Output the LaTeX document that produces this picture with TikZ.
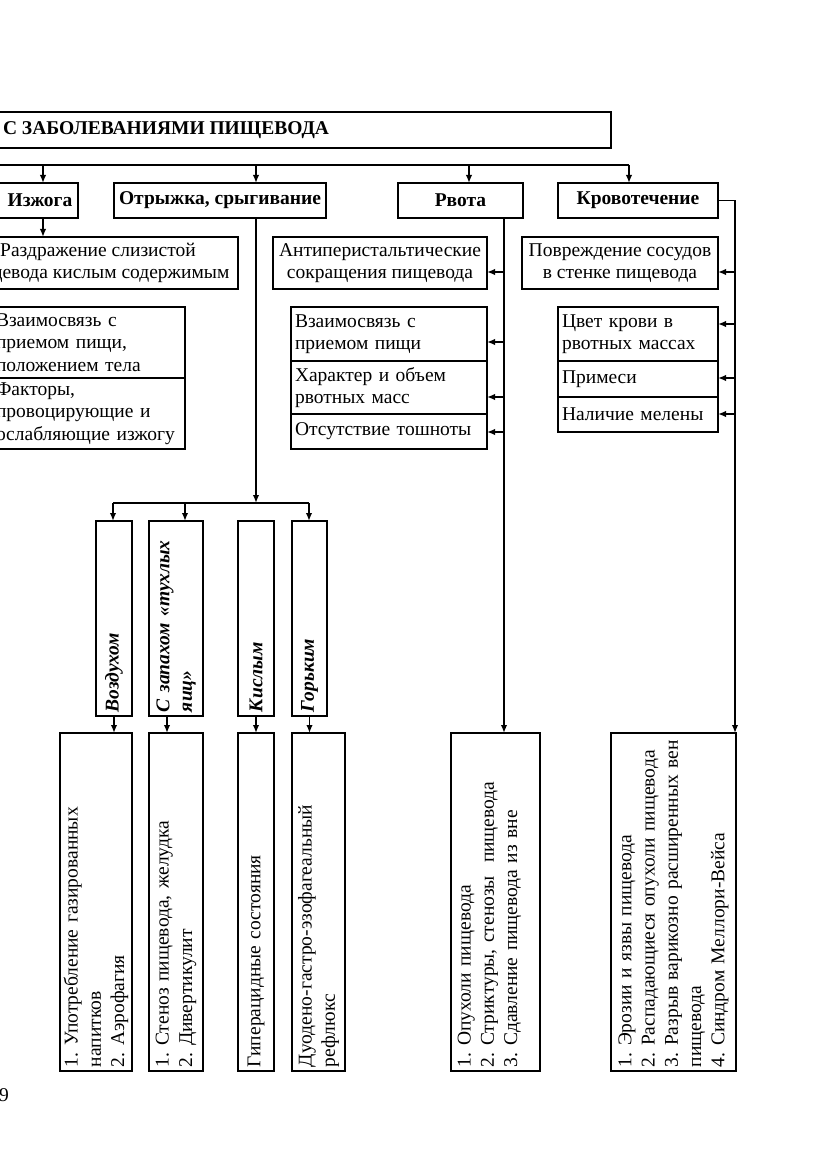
\documentclass[tikz,border=0pt]{standalone}
\usepackage{fontspec}
\setmainfont{Liberation Serif}
\usetikzlibrary{arrows.meta}
\frenchspacing
\newcommand\rmfs{\fontsize{19.5}{22.5}\selectfont}
\newcommand\vrfs{\fontsize{19.5}{23.3}\selectfont}
\newcommand\bffs{\fontsize{19.5}{22.5}\selectfont\bfseries}
\newcommand\bifs{\fontsize{19.5}{22.5}\selectfont\bfseries\itshape}
\begin{document}
\begin{tikzpicture}[x=1pt,y=-1pt,
  box/.style={draw, line width=1.5pt, inner sep=0pt, outer sep=0pt, align=center, font=\rmfs},
  lbox/.style={box, align=left},
  corners/.style n args={4}{anchor=north west, at={(#1,#2)},
     minimum width={((#3)-(#1))*1pt}, minimum height={((#4)-(#2))*1pt}},
  txt/.style={inner sep=0pt, outer sep=0pt, align=center},
  vtxt/.style={rotate=90, anchor=west, align=left, inner xsep=4pt, inner ysep=0pt, outer sep=0pt},
  conn/.style={line width=1.8pt},
  arr/.style={conn, -{Latex[length=8pt,width=6.5pt]}}]
\useasboundingbox (0,0) rectangle (831,1174);
\clip (0,0) rectangle (831,1174);
\fill[white] (0,0) rectangle (831,1174);

% title
\node[box, corners={-20}{112}{611}{148}] (title) {};
\node[txt, font=\bffs, anchor=west] (titletxt) at (3,130) {С ЗАБОЛЕВАНИЯМИ ПИЩЕВОДА};

% level 2
\node[box, corners={-20}{183}{78}{218}] (izh) {};
\node[txt, font=\bffs] (izhtxt) at (40,200.5) {Изжога};
\node[box, font=\bffs, corners={114}{183}{326}{218}] (otr) {Отрыжка, срыгивание};
\node[box, font=\bffs, corners={398}{183}{523}{218}] (rv) {Рвота};
\node[box, font=\bffs, corners={558}{183}{718}{218}] (kr) {Кровотечение};

% level 3
\node[box, corners={-42}{237}{238}{289}] (razd) {Раздражение слизистой\\пищевода кислым содержимым};
\node[box, corners={273}{237}{487}{289}] (anti) {Антиперистальтические\\сокращения пищевода};
\node[box, corners={522}{237}{718}{289}] (pov) {Повреждение сосудов\\в стенке пищевода};

% lists
\node[lbox, text width=184pt, corners={-9}{307}{185}{378}] (iz1) {Взаимосвязь с\\приемом пищи,\\положением тела};
\node[lbox, text width=184pt, corners={-9}{378}{185}{449}] (iz2) {Факторы,\\провоцирующие и\\ослабляющие изжогу};
\node[lbox, text width=188pt, corners={291}{307}{487}{361}] (rv1) {Взаимосвязь с\\приемом пищи};
\node[lbox, text width=188pt, corners={291}{361}{487}{414}] (rv2) {Характер и объем\\рвотных масс};
\node[lbox, text width=188pt, corners={291}{414}{487}{449}] (rv3) {Отсутствие тошноты};
\node[lbox, text width=152pt, corners={558}{307}{718}{361}] (kr1) {Цвет крови в\\рвотных массах};
\node[lbox, text width=152pt, corners={558}{361}{718}{397}] (kr2) {Примеси};
\node[lbox, text width=152pt, corners={558}{397}{718}{432}] (kr3) {Наличие мелены};

% level 4
\node[box, corners={96}{521}{132}{716}] (v1) {};
\node[box, corners={149}{521}{203}{716}] (v2) {};
\node[box, corners={238}{521}{274}{716}] (v3) {};
\node[box, corners={292}{521}{327}{716}] (v4) {};
\node[vtxt, font=\bifs, text width=185pt] (v1t) at (v1.south) {Воздухом};
\node[vtxt, font=\bifs, text width=185pt] (v2t) at (v2.south) {С запахом «тухлых\\яиц»};
\node[vtxt, font=\bifs, text width=185pt] (v3t) at (v3.south) {Кислым};
\node[vtxt, font=\bifs, text width=185pt] (v4t) at (v4.south) {Горьким};

% level 5
\node[box, corners={60}{733}{132}{1071}] (b1) {};
\node[box, corners={149}{733}{203}{1071}] (b2) {};
\node[box, corners={238}{733}{274}{1071}] (b3) {};
\node[box, corners={292}{733}{345}{1071}] (b4) {};
\node[box, corners={451}{733}{540}{1071}] (b5) {};
\node[box, corners={611}{733}{736}{1071}] (b6) {};
\node[vtxt, font=\vrfs, text width=334pt] (b1t) at (b1.south) {1. Употребление газированных\\напитков\\2. Аэрофагия};
\node[vtxt, font=\vrfs, text width=334pt] (b2t) at (b2.south) {1. Стеноз пищевода, желудка\\2. Дивертикулит};
\node[vtxt, font=\vrfs, text width=334pt] (b3t) at (b3.south) {Гиперацидные состояния};
\node[vtxt, font=\vrfs, text width=334pt] (b4t) at (b4.south) {Дуодено-гастро-эзофагеальный\\рефлюкс};
\node[vtxt, font=\vrfs, text width=334pt] (b5t) at ([xshift=-6pt]b5.south) {1. Опухоли пищевода\\2. Стриктуры, стенозы\ \ пищевода\\3. Сдавление пищевода из вне};
\node[vtxt, font=\vrfs, text width=334pt] (b6t) at (b6.south) {1. Эрозии и язвы пищевода\\2. Распадающиеся опухоли пищевода\\3. Разрыв варикозно расширенных вен\\пищевода\\4. Синдром Меллори-Вейса};

% page number
\node[txt, font=\rmfs, anchor=west] (pg) at (-1,1095) {9};

% top bus
\coordinate (busL) at (-20,165);
\coordinate (busR) at (629,165);
\coordinate (a1) at (43,165);
\coordinate (a2) at (256,165);
\coordinate (a3) at (469,165);
\draw[conn] (busL) -- (busR);
\draw[arr] (a1) -- (a1 |- izh.north);
\draw[arr] (a2) -- (a2 |- otr.north);
\draw[arr] (a3) -- (a3 |- rv.north);
\draw[arr] (busR) -- (busR |- kr.north);

% heartburn
\draw[arr] (a1 |- izh.south) -- (a1 |- razd.north);

% belching
\coordinate (ox) at (256,218);
\coordinate (obusL) at (113,503);
\coordinate (obusM) at (185,503);
\coordinate (obusR) at (309,503);
\draw[conn] (obusL) -- (obusR);
\draw[arr] (ox) -- (ox |- obusL);
\draw[arr] (obusL) -- (obusL |- v1.north);
\draw[arr] (obusM) -- (obusM |- v2.north);
\draw[arr] (obusR) -- (obusR |- v4.north);
\coordinate (v2x) at (167,716);
\draw[arr] (v1.south) -- (v1.south |- b1.north);
\draw[arr] (v2x) -- (v2x |- b2.north);
\draw[arr] (v3.south) -- (v3.south |- b3.north);
\draw[arr] (v4.south) -- (v4.south |- b4.north);

% vomiting
\coordinate (rx) at (504,218);
\draw[arr] (rx) -- (rx |- b5.north);
\coordinate (ra1) at (504,272);
\coordinate (ra2) at (504,342);
\coordinate (ra3) at (504,397);
\coordinate (ra4) at (504,432);
\draw[arr] (ra1) -- (ra1 -| anti.east);
\draw[arr] (ra2) -- (ra2 -| rv1.east);
\draw[arr] (ra3) -- (ra3 -| rv2.east);
\draw[arr] (ra4) -- (ra4 -| rv3.east);

% bleeding
\coordinate (kx) at (735,200.5);
\draw[conn] (kr.east) -- (kx);
\draw[arr] (kx) -- (kx |- b6.north);
\coordinate (ka1) at (735,272);
\coordinate (ka2) at (735,324);
\coordinate (ka3) at (735,378);
\coordinate (ka4) at (735,414);
\draw[arr] (ka1) -- (ka1 -| pov.east);
\draw[arr] (ka2) -- (ka2 -| kr1.east);
\draw[arr] (ka3) -- (ka3 -| kr2.east);
\draw[arr] (ka4) -- (ka4 -| kr3.east);
\end{tikzpicture}
\end{document}
